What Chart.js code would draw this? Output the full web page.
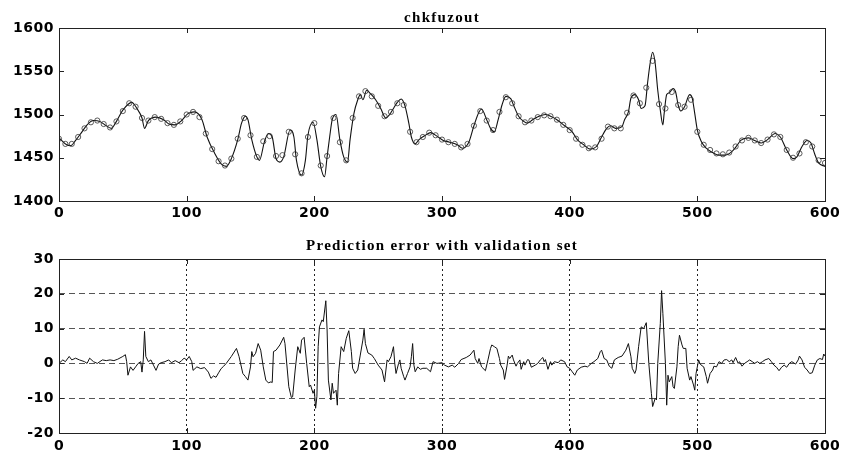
<!DOCTYPE html>
<html>
<head>
<meta charset="utf-8">
<script src="https://cdn.jsdelivr.net/npm/chart.js@4.4.1/dist/chart.umd.min.js"></script>
<style>
    html, body { margin: 0; padding: 0; background: #fff; overflow: hidden; width: 843px; height: 453px; }
    canvas { position: absolute; left: 0; }
    #topChart { top: 0; }
    #bottomChart { top: 225px; }
</style>
</head>
<body>
<canvas id="topChart" width="843" height="225"></canvas>
<canvas id="bottomChart" width="843" height="245"></canvas>
<script>
// model output (solid line), [sample, value]
const fitSeries = [
    [0,1473],[6,1465],[9,1464],[13,1470],[18,1480],[22,1488],[27,1493],[32,1492],[37,1487],[41,1484],
    [45,1492],[50,1505],[57,1514],[61,1507],[65,1496],[67,1484],[70,1493],[76,1497],[82,1494],[86,1489],
    [91,1488],[96,1493],[101,1501],[106,1503],[112,1494],[116,1474],[122,1455],[127,1443],[131,1440],[135,1449],
    [140,1471],[143,1490],[146,1498],[148,1494],[151,1471],[155,1451],[157,1447],[161,1469],[164,1478],[167,1474],
    [170,1449],[173,1445],[176,1451],[181,1482],[184,1474],[186,1447],[190,1430],[193,1447],[195,1476],[199,1491],
    [202,1471],[205,1440],[208,1428],[210,1451],[212,1474],[214,1494],[217,1500],[220,1471],[223,1451],[226,1445],
    [228,1471],[231,1501],[234,1517],[236,1523],[238,1517],[241,1528],[244,1524],[248,1517],[252,1507],[256,1496],
    [259,1500],[262,1507],[265,1514],[268,1518],[271,1510],[274,1490],[276,1474],[279,1466],[282,1471],[287,1476],
    [291,1479],[296,1475],[301,1470],[306,1468],[312,1465],[316,1461],[321,1468],[325,1487],[329,1503],[331,1506],
    [335,1494],[338,1484],[341,1480],[344,1494],[347,1511],[350,1521],[354,1518],[356,1511],[360,1498],[364,1492],
    [367,1490],[371,1494],[376,1498],[381,1500],[385,1498],[390,1494],[396,1487],[402,1480],[406,1471],[411,1465],
    [416,1460],[421,1463],[425,1474],[429,1484],[432,1487],[436,1484],[441,1486],[443,1494],[446,1503],[448,1519],
    [451,1523],[454,1517],[456,1507],[459,1510],[461,1536],[463,1559],[465,1572],[467,1559],[469,1528],[471,1505],
    [473,1488],[474,1501],[476,1523],[478,1525],[481,1530],[483,1526],[485,1511],[487,1504],[490,1509],[494,1523],
    [496,1519],[498,1501],[500,1482],[503,1469],[507,1461],[512,1456],[517,1453],[522,1453],[527,1457],[531,1464],
    [534,1470],[540,1473],[545,1470],[550,1467],[555,1471],[561,1478],[565,1474],[570,1459],[575,1449],[578,1451],
    [582,1463],[586,1470],[589,1467],[592,1454],[595,1444],[600,1440],
];

// measured values (circles), [sample, value]
const obsSeries = [
    [0,1472],[5,1466],[10,1466],[15,1474],[20,1484],[25,1491],[30,1493],[35,1489],[40,1485],[45,1492],
    [50,1504],[55,1513],[60,1509],[65,1496],[70,1493],[75,1497],[80,1495],[85,1490],[90,1488],[95,1492],
    [100,1500],[105,1503],[110,1497],[115,1478],[120,1460],[125,1446],[130,1441],[135,1449],[140,1472],[145,1496],
    [150,1476],[155,1451],[160,1469],[165,1475],[170,1452],[175,1453],[180,1480],[185,1454],[190,1432],[195,1474],
    [200,1490],[205,1441],[210,1452],[215,1496],[220,1468],[225,1447],[230,1496],[235,1521],[240,1527],[245,1521],
    [250,1510],[255,1498],[260,1503],[265,1513],[270,1511],[275,1480],[280,1468],[285,1474],[290,1479],[295,1476],
    [300,1471],[305,1468],[310,1466],[315,1462],[320,1466],[325,1487],[330,1504],[335,1493],[340,1482],[345,1503],
    [350,1520],[355,1513],[360,1498],[365,1491],[370,1493],[375,1497],[380,1499],[385,1498],[390,1494],[395,1488],
    [400,1482],[405,1472],[410,1465],[415,1461],[420,1462],[425,1472],[430,1486],[435,1484],[440,1484],[445,1502],
    [450,1522],[455,1513],[460,1531],[465,1562],[470,1512],[475,1507],[480,1526],[485,1511],[490,1509],[495,1517],
    [500,1480],[505,1465],[510,1459],[515,1455],[520,1454],[525,1456],[530,1463],[535,1470],[540,1473],[545,1470],
    [550,1467],[555,1471],[560,1477],[565,1474],[570,1459],[575,1450],[580,1455],[585,1468],[590,1463],[595,1447],
    [600,1444],
];

// prediction error, [sample, error]
const errorSeries = [
    [0,0],[3,1],[5,0.5],[8,2],[10,1],[13,1.5],[16,1],[20,0.5],[22,0],[24,1.5],
    [27,0.5],[30,0],[34,1],[37,0.8],[40,1],[43,0.8],[46,1.2],[50,2],[52,2.5],[53,0.5],
    [54,-3.4],[56,-1],[58,-2],[60,-1],[62,0],[64,0.5],[65,-2.5],[66,1],[67,9.2],[68,2],
    [70,0.5],[72,1],[74,-0.5],[76,-2],[78,-0.2],[80,0.2],[83,0.5],[86,1],[88,0.2],[91,0.8],
    [94,0.2],[96,0.8],[98,1.5],[100,1],[102,2],[104,0.5],[105,-2],[108,-1],[111,-1.5],[114,-1.2],
    [117,-2.5],[119,-4.3],[121,-3.6],[123,-4],[125,-2.7],[127,-1.5],[129,-0.8],[131,0],[135,2],[139,4.3],
    [141,2],[144,-2.9],[146,-3.8],[148,-4.8],[150,-1],[151,3.4],[152,1.9],[154,2.9],[156,5.7],[158,3.8],
    [160,-1],[162,-4.8],[164,-5.6],[166,-5.3],[167,-5.5],[168,3.4],[170,3.8],[173,5.3],[176,7.5],[177,5.7],
    [180,-6.7],[182,-9.8],[183,-9.6],[185,-1.9],[187,4.8],[189,2.9],[190,6.7],[192,7.5],[194,0],[196,-6.7],
    [197,-6.2],[199,-8.6],[200,-7.7],[201,-12.9],[202,-9.6],[203,4.8],[204,10.5],[206,12.5],[207,12],[209,18],
    [210,9.6],[211,-4.8],[213,-10.5],[214,-5.7],[215,-8.6],[217,-7.7],[218,-12],[219,-2.9],[221,4.8],[223,3.4],
    [225,7.2],[227,9.4],[229,3.4],[230,-1.4],[232,-2.9],[234,-1.9],[236,2.4],[238,6.7],[239,9.8],[240,5.7],
    [242,3],[245,2.4],[247,1.4],[250,-0.5],[253,-1.9],[255,-5.3],[257,1],[258,0.5],[260,1.9],[262,4.8],
    [263,0],[264,-2.9],[266,0],[267,1],[268,-1.4],[270,-3.8],[271,-4.8],[273,-2.9],[275,-1],[276,1.9],
    [277,5.7],[278,-0.5],[279,-2.4],[281,-1],[283,-1.7],[285,-1.4],[288,-1.4],[291,-2.4],[293,0.5],[296,0],
    [300,0.2],[302,-0.5],[305,-1],[308,-0.5],[310,-1.1],[313,0],[315,1.1],[319,1.7],[322,2.4],[325,3.8],
    [326,1.4],[328,0],[329,1.4],[331,-1],[334,-2.1],[336,1],[338,4.3],[339,5.3],[341,4.8],[343,4.3],
    [345,1.4],[346,-0.5],[348,-1.9],[349,-4.6],[351,-0.5],[352,2.1],[353,1.4],[355,2.4],[356,1],[358,-0.8],
    [359,0],[361,1],[362,-1.7],[364,0.5],[365,-0.5],[367,1.1],[368,1],[370,-1.1],[373,-0.5],[375,0],
    [377,1],[379,1.7],[380,0.5],[381,1.1],[383,-1.7],[385,0.5],[386,-0.5],[388,0.5],[391,0.2],[393,1],
    [396,0.5],[398,-1],[400,-1.4],[402,-2.4],[404,-3.4],[406,-1.9],[409,-1.1],[412,-0.8],[414,-1],[417,0],
    [419,0.5],[422,1.4],[424,3.4],[425,3.8],[427,1.4],[429,1],[431,-0.8],[433,-1.4],[435,1],[438,1.7],
    [441,2.1],[444,3.8],[446,5.7],[448,1.9],[449,-1.4],[451,-2.9],[452,-1.9],[454,4.8],[456,10.5],[458,10],
    [460,11.7],[462,0],[464,-8.6],[465,-12.4],[467,-10],[468,-10.5],[469,0],[471,11.5],[472,20.9],[473,14.4],
    [475,0],[476,-12],[477,-3.4],[478,-5.3],[480,-3.8],[481,-6.7],[482,-7.2],[484,-1],[485,4.8],[486,8.1],
    [488,5.3],[489,4.3],[491,4.3],[492,-1.4],[494,-4.8],[495,-3.8],[497,-6.2],[498,-7.7],[499,-2.9],[501,1],
    [502,0],[503,-0.5],[505,-1],[507,-3.8],[508,-5.7],[510,-2.9],[512,-1.9],[513,-0.8],[515,-1],[517,0.5],
    [519,0],[521,1],[523,1.1],[525,0.5],[527,1],[528,0.2],[530,1.7],[532,0],[533,0.5],[535,-0.8],
    [537,0],[539,0.5],[541,1],[543,0.5],[545,0],[547,0.5],[549,0],[551,0.5],[553,1],[556,1.4],
    [558,0.5],[560,-0.5],[562,-1.1],[564,-2.1],[566,-1.1],[568,-0.5],[570,-1.1],[572,0],[574,0.5],[577,-0.2],
    [579,1],[580,2.1],[582,1],[584,-1.1],[586,-1.9],[588,-2.9],[590,-2.7],[592,-0.5],[594,1],[596,1.4],
    [598,1.1],[599,2.7],[600,2.1],
];

const xTicks = [0, 100, 200, 300, 400, 500, 600];
const topYTicks = [1400, 1450, 1500, 1550, 1600];
const bottomYTicks = [-20, -10, 0, 10, 20, 30];

const toXY = (pairs) => pairs.map(([x, y]) => ({ x, y }));

const tickFont = { family: "'DejaVu Sans', Verdana, sans-serif", size: 14, weight: "bold" };

// matlab look: box frame, inward ticks, serif title
function figurePlugin(title, titleY) {
    return {
        id: "figure",
        beforeDraw(chart) {
            chart.ctx.letterSpacing = "0.5px";
        },
        afterDraw(chart) {
            const ctx = chart.ctx;
            const { left, right, top, bottom } = chart.chartArea;
            ctx.save();
            ctx.letterSpacing = "0px";
            ctx.strokeStyle = "#222";
            ctx.lineWidth = 1;
            ctx.strokeRect(Math.round(left) + 0.5, Math.round(top) + 0.5,
                Math.round(right - left), Math.round(bottom - top));

            ctx.beginPath();
            const xs = chart.scales.x;
            xs.ticks.forEach((t) => {
                const px = Math.round(xs.getPixelForValue(t.value)) + 0.5;
                ctx.moveTo(px, bottom);
                ctx.lineTo(px, bottom - 5);
                ctx.moveTo(px, top);
                ctx.lineTo(px, top + 5);
            });
            const ys = chart.scales.y;
            ys.ticks.forEach((t) => {
                const py = Math.round(ys.getPixelForValue(t.value)) + 0.5;
                ctx.moveTo(left, py);
                ctx.lineTo(left + 5, py);
                ctx.moveTo(right, py);
                ctx.lineTo(right - 5, py);
            });
            ctx.stroke();

            ctx.letterSpacing = "1.3px";
            ctx.fillStyle = "#000";
            ctx.font = "bold 15px 'Liberation Serif', 'Times New Roman', serif";
            ctx.textAlign = "center";
            ctx.textBaseline = "alphabetic";
            ctx.fillText(title, (left + right) / 2, titleY);
            ctx.restore();
        },
    };
}

function makeScales(yMin, yMax, yTicks, showGrid, xPad, xHeight) {
    return {
        x: {
            type: "linear",
            min: 0,
            max: 600,
            afterBuildTicks: (scale) => {
                scale.ticks = xTicks.map((value) => ({ value }));
            },
            afterFit: (scale) => {
                scale.height = xHeight;
                scale.paddingLeft = 0;
                scale.paddingRight = 0;
            },
            ticks: {
                color: "#000",
                font: tickFont,
                padding: xPad,
                maxRotation: 0,
                callback: (value) => String(value),
            },
            grid: { display: showGrid, color: "#222", lineWidth: 1, drawTicks: false },
            border: { display: false, dash: [2, 3] },
        },
        y: {
            min: yMin,
            max: yMax,
            afterBuildTicks: (scale) => {
                scale.ticks = yTicks.map((value) => ({ value }));
            },
            afterFit: (scale) => {
                scale.width = 59;
            },
            ticks: {
                color: "#000",
                font: tickFont,
                padding: 5,
                callback: (value) => String(value),
            },
            grid: { display: showGrid, color: "#555", lineWidth: 1, drawTicks: false },
            border: { display: false, dash: [6, 4] },
        },
    };
}

new Chart(document.getElementById("topChart"), {
    type: "line",
    data: {
        datasets: [
            {
                data: toXY(obsSeries),
                showLine: false,
                pointRadius: 2.6,
                pointBorderWidth: 0.8,
                pointBorderColor: "#333",
                pointBackgroundColor: "rgba(255,255,255,0)",
            },
            {
                data: toXY(fitSeries),
                borderColor: "#111",
                borderWidth: 1.1,
                pointRadius: 0,
                cubicInterpolationMode: "monotone",
            },
        ],
    },
    options: {
        responsive: false,
        animation: false,
        events: [],
        layout: { padding: { top: 28, right: 18, left: 0, bottom: 0 } },
        plugins: { legend: { display: false }, tooltip: { enabled: false }, title: { display: false } },
        scales: makeScales(1400, 1600, topYTicks, false, 4, 24),
    },
    plugins: [figurePlugin("chkfuzout", 22)],
});

new Chart(document.getElementById("bottomChart"), {
    type: "line",
    data: {
        datasets: [
            {
                data: toXY(errorSeries),
                borderColor: "#111",
                borderWidth: 1,
                pointRadius: 0,
                tension: 0,
            },
        ],
    },
    options: {
        responsive: false,
        animation: false,
        events: [],
        layout: { padding: { top: 34, right: 18, left: 0, bottom: 0 } },
        plugins: { legend: { display: false }, tooltip: { enabled: false }, title: { display: false } },
        scales: makeScales(-20, 30, bottomYTicks, true, 5, 37),
    },
    plugins: [figurePlugin("Prediction error with validation set", 25)],
});
</script>
</body>
</html>
